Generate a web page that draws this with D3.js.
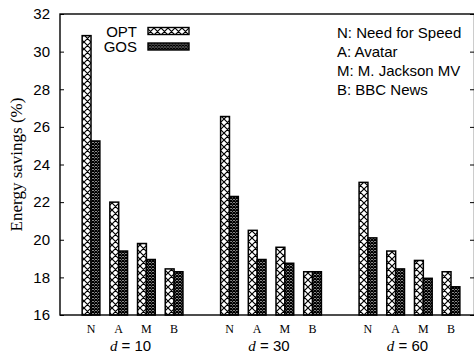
<!DOCTYPE html>
<html>
<head>
<meta charset="utf-8">
<script src="https://cdn.jsdelivr.net/npm/d3@7/dist/d3.min.js"></script>
<style>
  body { margin: 0; background: #fff; }
  text { font-family: "Liberation Sans", Arial, sans-serif; }
</style>
</head>
<body>
<svg class="svg1" width="474" height="356"></svg>
<script>
var dValues = [10, 30, 60];
var videos = ["N", "A", "M", "B"];
var videoNames = ["Need for Speed", "Avatar", "M. Jackson MV", "BBC News"];
var series = ["OPT", "GOS"];
// one row per d value, one column per video
var optValues = [
    [30.85, 22.0, 19.8, 18.45],
    [26.55, 20.5, 19.6, 18.3],
    [23.05, 19.4, 18.9, 18.3]
];
var gosValues = [
    [25.25, 19.4, 18.95, 18.3],
    [22.3, 18.95, 18.75, 18.3],
    [20.1, 18.45, 17.95, 17.5]
];
var yTicks = [16, 18, 20, 22, 24, 26, 28, 30, 32];

var LEFT = 60, RIGHT = 474.5, TOP = 14, BOTTOM = 315;

var svg1 = d3.select(".svg1");

// patterns
var defs = svg1.append("defs");
var p1 = defs.append("pattern")
    .attr("id", "patOPT")
    .attr("patternUnits", "userSpaceOnUse")
    .attr("width", 7).attr("height", 7);
p1.append("rect").attr("width", 7).attr("height", 7).attr("fill", "#fff");
p1.append("path").attr("d", "M0,0L7,7M7,0L0,7M-1,6L1,8M6,-1L8,1")
    .attr("stroke", "#000").attr("stroke-width", 1.2);

var p2 = defs.append("pattern")
    .attr("id", "patGOS")
    .attr("patternUnits", "userSpaceOnUse")
    .attr("width", 3).attr("height", 3);
p2.append("rect").attr("width", 3).attr("height", 3).attr("fill", "#fff");
p2.append("path").attr("d", "M0,0L3,3M3,0L0,3")
    .attr("stroke", "#000").attr("stroke-width", 1.3);

var patFill = { OPT: "url(#patOPT)", GOS: "url(#patGOS)" };

// slot index: group g, video i -> g*5 + i
var scaleX = d3.scaleLinear().domain([-1.12, 13.83]).range([LEFT, 474]);
var scaleY = d3.scaleLinear().domain([16, 32]).range([BOTTOM, TOP]);
var bw = scaleX(0.32) - scaleX(0);

var bars = [];
dValues.forEach(function(dv, g) {
    videos.forEach(function(v, i) {
        bars.push({ slot: g * 5 + i, s: "OPT", value: optValues[g][i] });
        bars.push({ slot: g * 5 + i, s: "GOS", value: gosValues[g][i] });
    });
});

svg1.append("g").selectAll("rect")
    .data(bars)
    .enter()
    .append("rect")
    .attr("x", function(d) { return d.s == "OPT" ? scaleX(d.slot) - bw : scaleX(d.slot); })
    .attr("y", function(d) { return scaleY(d.value); })
    .attr("width", bw)
    .attr("height", function(d) { return scaleY(16) - scaleY(d.value); })
    .attr("fill", function(d) { return patFill[d.s]; })
    .attr("stroke", "#000")
    .attr("stroke-width", 1.5);

// border
svg1.append("rect")
    .attr("x", LEFT).attr("y", TOP)
    .attr("width", RIGHT - LEFT).attr("height", BOTTOM - TOP)
    .attr("fill", "none")
    .attr("stroke", "#000")
    .attr("stroke-width", 1.4);

var yAxis = d3.axisLeft(scaleY).tickValues(yTicks).tickSize(-4).tickPadding(10);
var gy = svg1.append("g")
    .attr("transform", "translate(" + LEFT + ",0)")
    .call(yAxis);
gy.select(".domain").remove();
gy.selectAll("text").style("font-size", "15px").style("font-family", "Liberation Sans, Arial, sans-serif").attr("fill", "#000");

var yAxisR = d3.axisRight(scaleY).tickValues(yTicks).tickSize(-4.5).tickFormat("");
var gyr = svg1.append("g")
    .attr("transform", "translate(" + RIGHT + ",0)")
    .call(yAxisR);
gyr.select(".domain").remove();

// category labels
var catLabels = [];
dValues.forEach(function(dv, g) {
    videos.forEach(function(v, i) { catLabels.push({ slot: g * 5 + i, text: v }); });
});
svg1.append("g").selectAll("text")
    .data(catLabels)
    .enter()
    .append("text")
    .attr("x", function(d) { return scaleX(d.slot); })
    .attr("y", 333)
    .attr("text-anchor", "middle")
    .style("font-family", "Liberation Serif, Times New Roman, serif")
    .style("font-size", "12px")
    .text(function(d) { return d.text; });

var gl = svg1.append("g").selectAll("text")
    .data(dValues)
    .enter()
    .append("text")
    .attr("x", function(d, g) { return scaleX(g * 5 + 1.5) - 2; })
    .attr("y", 351)
    .attr("text-anchor", "middle")
    .style("font-size", "15px");
gl.append("tspan")
    .style("font-family", "Liberation Serif, Times New Roman, serif")
    .style("font-style", "italic")
    .text("d");
gl.append("tspan")
    .text(function(d) { return " = " + d; });

// y title
svg1.append("text")
    .attr("transform", "translate(22," + ((TOP + BOTTOM) / 2) + ") rotate(-90)")
    .attr("text-anchor", "middle")
    .style("font-family", "Liberation Serif, Times New Roman, serif")
    .style("font-size", "17px")
    .text("Energy savings (%)");

// series key
var key = svg1.append("g").selectAll("g")
    .data(series)
    .enter()
    .append("g")
    .attr("transform", function(d, i) { return "translate(0," + (i * 15.5) + ")"; });
key.append("text")
    .attr("x", 137).attr("y", 36.5)
    .attr("text-anchor", "end")
    .style("font-size", "15px")
    .text(function(d) { return d; });
key.append("rect")
    .attr("x", 148).attr("y", 27.5)
    .attr("width", 41).attr("height", 7)
    .attr("fill", function(d) { return patFill[d]; })
    .attr("stroke", "#000")
    .attr("stroke-width", 1.4);

// video name key
svg1.append("g").selectAll("text")
    .data(videoNames)
    .enter()
    .append("text")
    .attr("x", 337)
    .attr("y", function(d, i) { return 37.5 + i * 19; })
    .style("font-size", "15px")
    .text(function(d, i) { return videos[i] + ": " + d; });
</script>
</body>
</html>
